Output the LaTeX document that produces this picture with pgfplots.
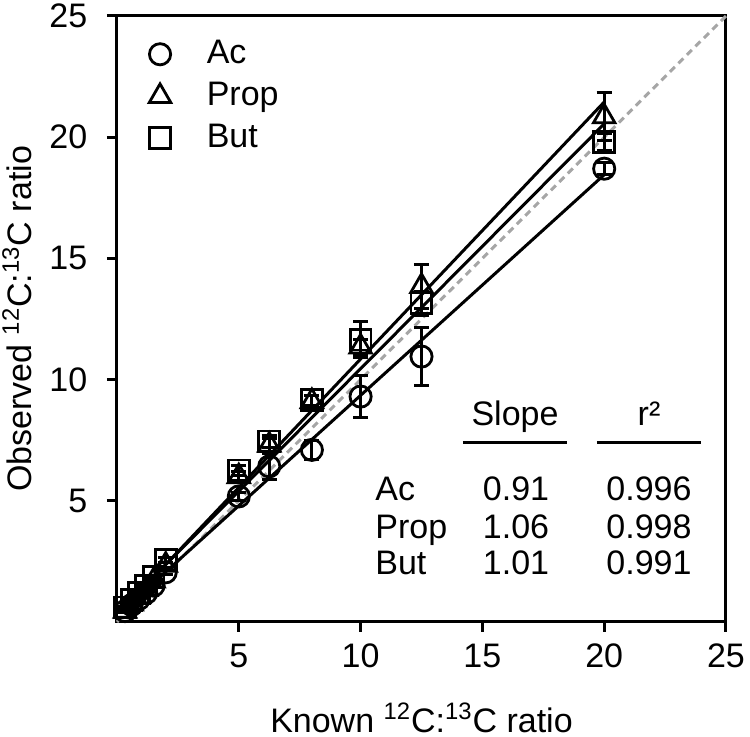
\documentclass[border=0pt]{standalone}
\usepackage{fontspec}
\setmainfont{Liberation Sans}
\usepackage{pgfplots}
\pgfplotsset{compat=1.18}
\usepackage{pgfplotstable}
\pgfplotstableread{
x y e
0.33 0.45 0.05
0.6 0.70 0.05
0.9 0.95 0.05
1.2 1.20 0.05
1.5 1.50 0.05
2 2.05 0.10
5 5.18 0.15
6.25 6.42 0.55
8 7.10 0.40
10 9.30 0.87
12.5 10.95 1.20
20 18.70 0.25
}\ac
\pgfplotstableread{
x y e
0.33 0.45 0.05
0.6 0.75 0.05
0.9 1.05 0.05
1.2 1.35 0.05
1.5 1.70 0.05
2 2.35 0.10
5 6.00 0.20
6.25 7.30 0.25
8 9.10 0.25
10 11.35 0.30
12.5 13.85 0.90
20 20.85 1.00
}\prop
\pgfplotstableread{
x y e
0.33 0.60 0.05
0.6 0.90 0.05
0.9 1.20 0.05
1.2 1.50 0.05
1.5 1.85 0.05
2 2.55 0.10
5 6.25 0.20
6.25 7.45 0.25
8 9.15 0.20
10 11.65 0.75
12.5 13.15 0.50
20 19.80 0.35
}\but
\begin{document}
\fontsize{17}{20}\selectfont
\begin{tikzpicture}
\useasboundingbox (-58.5pt,-57.5pt) rectangle (316.5pt,311pt);
\begin{axis}[
 at={(0pt,0pt)}, anchor=south west,
 scale only axis, width=304.5pt, height=303pt,
 xmin=0, xmax=25, ymin=0, ymax=25,
 xtick={5,10,15,20,25}, ytick={5,10,15,20,25},
 xtick pos=bottom, ytick pos=left, tick align=outside,
 major tick length=5pt,
 axis line style={line width=1.5pt},
 every tick/.style={black, line width=1.5pt},
 tick label style={font=\fontsize{17}{20}\selectfont},
 yticklabel style={xshift=-4pt},
 /pgf/number format/assume math mode=true,
 legend style={at={(axis cs:1.31,24.18)}, anchor=north west, draw=none, fill=none,
   font=\fontsize{17}{20}\selectfont, row sep=3pt, inner sep=0pt,
   nodes={inner sep=1pt, text height=12.5pt, text depth=3.5pt},
   /tikz/every odd column/.append style={column sep=17pt}},
 legend cell align=left,
 clip=false,
]
\addplot[forget plot, gray!70, line width=1.5pt, dash pattern=on 3.5pt off 2.5pt] coordinates {(0,0) (25,25)};
\addplot[forget plot, black, line width=1.5pt] coordinates {(0.2,0.43) (20,18.45)};
\addplot[forget plot, black, line width=1.5pt] coordinates {(0.2,0.46) (20,21.45)};
\addplot[forget plot, black, line width=1.5pt] coordinates {(0.2,0.55) (20,20.55)};
\addplot[only marks, black, mark=o, mark size=5.3pt, mark options={line width=1.4pt},
  error bars/.cd, y dir=both, y explicit,
  error bar style={line width=1.5pt},
  error mark options={rotate=90, mark size=3.75pt, line width=1.5pt}]
  table[x=x, y=y, y error=e] {\ac};
\addplot[only marks, black, mark=triangle, mark size=6.2pt, mark options={line width=1.4pt},
  error bars/.cd, y dir=both, y explicit,
  error bar style={line width=1.5pt},
  error mark options={rotate=90, mark size=3.75pt, line width=1.5pt}]
  table[x=x, y=y, y error=e] {\prop};
\addplot[only marks, black, mark=square, mark size=5.2pt, mark options={line width=1.4pt},
  error bars/.cd, y dir=both, y explicit,
  error bar style={line width=1.5pt},
  error mark options={rotate=90, mark size=3.75pt, line width=1.5pt}]
  table[x=x, y=y, y error=e] {\but};
\legend{Ac, Prop, But}
\node[anchor=center, inner sep=0pt] at (axis description cs:0.5,-0.158) {Known \textsuperscript{12}C:\textsuperscript{13}C ratio};
\node[anchor=center, inner sep=0pt, rotate=90] at (axis description cs:-0.164,0.5) {Observed \textsuperscript{12}C:\textsuperscript{13}C ratio};
\node[anchor=base] at (axis cs:16.34,8.12) {Slope};
\node[anchor=base] at (axis cs:21.84,8.12) {r²};
\draw[line width=1.5pt] (axis cs:14.2,7.42) -- (axis cs:18.47,7.42);
\draw[line width=1.5pt] (axis cs:19.7,7.42) -- (axis cs:23.97,7.42);
\node[anchor=base west, inner sep=0pt] at (axis cs:10.59,5.03) {Ac};
\node[anchor=base west, inner sep=0pt] at (axis cs:10.59,3.46) {Prop};
\node[anchor=base west, inner sep=0pt] at (axis cs:10.59,1.94) {But};
\node[anchor=base] at (axis cs:16.38,5.03) {0.91};
\node[anchor=base] at (axis cs:16.38,3.46) {1.06};
\node[anchor=base] at (axis cs:16.38,1.94) {1.01};
\node[anchor=base] at (axis cs:21.84,5.03) {0.996};
\node[anchor=base] at (axis cs:21.84,3.46) {0.998};
\node[anchor=base] at (axis cs:21.84,1.94) {0.991};
\end{axis}
\end{tikzpicture}
\end{document}
